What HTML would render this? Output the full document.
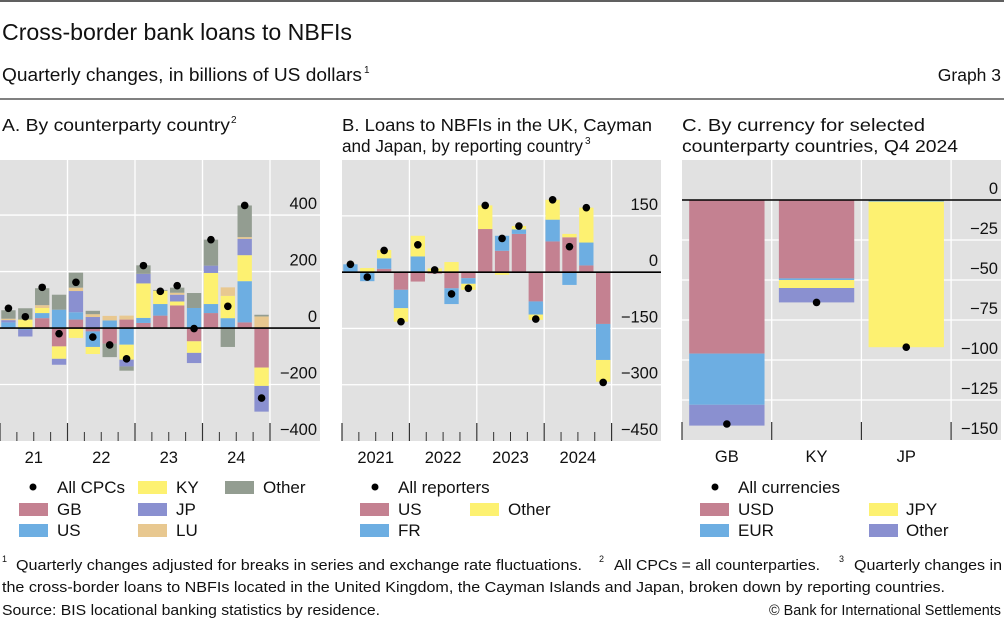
<!DOCTYPE html>
<html><head><meta charset="utf-8">
<style>
html,body{margin:0;padding:0;background:#fff;}
svg{display:block;font-family:"Liberation Sans",sans-serif;}
</style></head>
<body>
<svg id="chart" width="1004" height="629" viewBox="0 0 1004 629" xmlns="http://www.w3.org/2000/svg">
<line x1="0" y1="1" x2="1004" y2="1" stroke="#000" stroke-width="1.2"/>
<text x="2" y="40" font-size="23" fill="#111" textLength="350" lengthAdjust="spacingAndGlyphs">Cross-border bank loans to NBFIs</text>
<text x="2" y="81" font-size="18" fill="#111" textLength="360" lengthAdjust="spacingAndGlyphs">Quarterly changes, in billions of US dollars</text>
<text x="364" y="73" font-size="10" fill="#111">1</text>
<text x="1001" y="81" font-size="17.5" fill="#111" text-anchor="end">Graph 3</text>
<line x1="0" y1="99" x2="1004" y2="99" stroke="#000" stroke-width="1"/>

<text x="2" y="131" font-size="17.5" fill="#111" textLength="228" lengthAdjust="spacingAndGlyphs">A. By counterparty country</text>
<text x="231" y="123" font-size="10" fill="#111">2</text>
<text x="342" y="131" font-size="17.5" fill="#111" textLength="310" lengthAdjust="spacingAndGlyphs">B. Loans to NBFIs in the UK, Cayman</text>
<text x="342" y="152" font-size="17.5" fill="#111" textLength="241" lengthAdjust="spacingAndGlyphs">and Japan, by reporting country</text>
<text x="585" y="144" font-size="10" fill="#111">3</text>
<text x="682" y="131" font-size="17.5" fill="#111" textLength="243" lengthAdjust="spacingAndGlyphs">C. By currency for selected</text>
<text x="682" y="152" font-size="17.5" fill="#111" textLength="276" lengthAdjust="spacingAndGlyphs">counterparty countries, Q4 2024</text>

<g id="pA"></g>
<g id="pB"></g>
<g id="pC"></g>

<g font-size="17" fill="#111">
<circle cx="33" cy="487" r="3.5" fill="#000"/><text x="57" y="493">All CPCs</text>
<rect x="19" y="503" width="29" height="13" fill="#c48191"/><text x="57" y="515">GB</text>
<rect x="19" y="524" width="29" height="13" fill="#6daee2"/><text x="57" y="536">US</text>
<rect x="138" y="481" width="29" height="13" fill="#fdf171"/><text x="176" y="493">KY</text>
<rect x="138" y="503" width="29" height="13" fill="#8a90d0"/><text x="176" y="515">JP</text>
<rect x="138" y="524" width="29" height="13" fill="#e8c890"/><text x="176" y="536">LU</text>
<rect x="225" y="481" width="29" height="13" fill="#939d91"/><text x="263" y="493">Other</text>
</g>
<g font-size="17" fill="#111">
<circle cx="375" cy="487" r="3.5" fill="#000"/><text x="398" y="493">All reporters</text>
<rect x="360" y="503" width="29" height="13" fill="#c48191"/><text x="398" y="515">US</text>
<rect x="360" y="524" width="29" height="13" fill="#6daee2"/><text x="398" y="536">FR</text>
<rect x="470" y="503" width="29" height="13" fill="#fdf171"/><text x="508" y="515">Other</text>
</g>
<g font-size="17" fill="#111">
<circle cx="715" cy="487" r="3.5" fill="#000"/><text x="738" y="493">All currencies</text>
<rect x="700" y="503" width="29" height="13" fill="#c48191"/><text x="738" y="515">USD</text>
<rect x="700" y="524" width="29" height="13" fill="#6daee2"/><text x="738" y="536">EUR</text>
<rect x="869" y="503" width="29" height="13" fill="#fdf171"/><text x="906" y="515">JPY</text>
<rect x="869" y="524" width="29" height="13" fill="#8a90d0"/><text x="906" y="536">Other</text>
</g>

<g font-size="14.5" fill="#111">
<text x="2" y="562" font-size="9">1</text>
<text x="16" y="570" textLength="566" lengthAdjust="spacingAndGlyphs">Quarterly changes adjusted for breaks in series and exchange rate fluctuations.</text>
<text x="599" y="562" font-size="9">2</text>
<text x="614" y="570" textLength="206" lengthAdjust="spacingAndGlyphs">All CPCs = all counterparties.</text>
<text x="839" y="562" font-size="9">3</text>
<text x="854" y="570" textLength="148" lengthAdjust="spacingAndGlyphs">Quarterly changes in</text>
<text x="2" y="592" textLength="943" lengthAdjust="spacingAndGlyphs">the cross-border loans to NBFIs located in the United Kingdom, the Cayman Islands and Japan, broken down by reporting countries.</text>
<text x="2" y="615" textLength="378" lengthAdjust="spacingAndGlyphs">Source: BIS locational banking statistics by residence.</text>
<text x="1001" y="615" text-anchor="end" textLength="232" lengthAdjust="spacingAndGlyphs">© Bank for International Settlements</text>
</g>
</svg>
<script>
// Panel A data (billions USD), 16 quarters 2021Q1–2024Q4
const aYears = ["21","22","23","24"];
const aTicks = [400,200,0,-200,-400];
const aGB    = [0,0,35,-65,30,-12,-55,30,18,44,80,-47,53,0,20,-140];
const aUS    = [20,-5,18,65,26,-55,27,-59,18,41,0,71,32,35,146,0];
const aKY    = [0,30,18,-44,-35,-25,0,-53,122,47,14,-41,110,79,92,-65];
const aJP    = [8,-25,0,-21,75,39,0,-24,34,0,24,-36,26,0,58,-91];
const aLU    = [5,0,10,0,12,10,16,14,0,0,7,0,0,30,6,41];
const aOther = [30,40,60,53,53,12,-48,-15,30,3,18,53,92,-67,112,6];
const aTotal = [70,40,144,-20,162,-32,-60,-109,221,130,150,-2,313,77,434,-248];
// Panel B data
const bYears = ["2021","2022","2023","2024"];
const bTicks = [150,0,-150,-300,-450];
const bUS    = [0,-2,9,-47,-25,-4,-43,-16,115,57,102,-78,82,93,18,-138];
const bFR    = [21,-22,28,-49,42,0,-42,-15,0,40,12,-35,58,-34,61,-96];
const bOther = [0,11,22,-36,55,10,27,-16,63,-7,9,-14,53,9,93,-58];
const bTotal = [21,-13,58,-132,73,6,-58,-43,178,90,123,-125,193,68,172,-294];
// Panel C data
const cCats  = ["GB","KY","JP"];
const cTicks = [0,-25,-50,-75,-100,-125,-150];
const cUSD   = [-96,-49,0];
const cEUR   = [-32,-1,-1];
const cJPY   = [0,-5,-91];
const cOth   = [-13,-9,0];
const cTotal = [-140,-64,-92];

const NS="http://www.w3.org/2000/svg";
const COL={red:"#c48191",blue:"#6daee2",yel:"#fdf171",pur:"#8a90d0",tan:"#e8c890",gray:"#939d91"};
function mk(tag,attrs,parent){const e=document.createElementNS(NS,tag);for(const k in attrs)e.setAttribute(k,attrs[k]);parent.appendChild(e);return e;}

function panel(g,o,series,colors,names,totals,ticks,cats,isCat){
  const sy=v=>o.y0-(v-o.vmin)*(o.y0-o.y1)/(o.vmax-o.vmin);
  const bg=mk("rect",{x:o.x0,y:o.y1,width:o.x1-o.x0,height:o.y0-o.y1,fill:"#e1e1e1"},g);
  
  
  ticks.forEach(t=>{
    const yy=sy(t);
    if(yy<o.y0-1) mk("line",{x1:o.x0,x2:o.x1,y1:yy,y2:yy,stroke:"#fff","stroke-width":1.3},g);
    const tx=mk("text",{x:o.x1-3,y:yy-6,"text-anchor":"end","font-size":16.5,fill:"#111"},g);
    tx.textContent=(t<0?"\u2212"+(-t):String(t));
    
    
  });
  const n=o.n, groups=cats.length, per=n/groups;
  const step=o.gw/per;
  for(let k=1;k<=groups;k++){const xx=o.x0+k*o.gw;mk("line",{x1:xx,x2:xx,y1:o.y1,y2:o.y0,stroke:"#fff","stroke-width":1.3},g);}
  for(let k=0;k<=groups;k++){const xx=o.x0+k*o.gw;mk("line",{x1:xx,x2:xx,y1:o.y0-18,y2:o.y0,stroke:"#333","stroke-width":1.2},g);
    if(k<groups&&!isCat) for(let q=1;q<per;q++){const xq=xx+q*step;mk("line",{x1:xq,x2:xq,y1:o.y0-9,y2:o.y0,stroke:"#333","stroke-width":1},g);}
  }
  cats.forEach((c,k)=>{const t=mk("text",{x:o.x0+(k+0.5)*o.gw,y:o.y0+22,"text-anchor":"middle","font-size":16.5,fill:"#111"},g);t.textContent=c;
    
    });
  for(let i=0;i<n;i++){
    let pos=0,neg=0;
    const cx=o.x0+(i+0.5)*step, bw=step*o.bf;
    series.forEach((s,j)=>{
      const v=s[i]; if(!v) return;
      let a,b;
      if(v>0){a=pos;b=pos+v;pos=b;}else{a=neg;b=neg+v;neg=b;}
      const ya=sy(a),yb=sy(b);
      const r=mk("rect",{x:cx-bw/2,y:Math.min(ya,yb),width:bw,height:Math.abs(ya-yb),fill:colors[j]},g);
      
      
    });
  }
  const z=sy(0);
  mk("line",{x1:o.x0,x2:o.x1,y1:z,y2:z,stroke:"#000","stroke-width":1.6},g);
  for(let i=0;i<n;i++){
    const c=mk("circle",{cx:o.x0+(i+0.5)*step,cy:sy(totals[i]),r:3.8,fill:"#000"},g);
    
    
  }
}
panel(document.getElementById("pA"),{x0:0,x1:320,y0:441,y1:160,vmin:-400,vmax:595,n:16,gw:67.5,bf:0.85},
  [aGB,aUS,aKY,aJP,aLU,aOther],[COL.red,COL.blue,COL.yel,COL.pur,COL.tan,COL.gray],["gb","us","ky","jp","lu","other"],aTotal,aTicks,aYears,false);
panel(document.getElementById("pB"),{x0:342,x1:661,y0:441,y1:160,vmin:-450,vmax:299,n:16,gw:67.4,bf:0.85},
  [bUS,bFR,bOther],[COL.red,COL.blue,COL.yel],["us","fr","other"],bTotal,bTicks,bYears,false);
panel(document.getElementById("pC"),{x0:682,x1:1001,y0:440,y1:160,vmin:-150,vmax:25,n:3,gw:89.7,bf:0.84},
  [cUSD,cEUR,cJPY,cOth],[COL.red,COL.blue,COL.yel,COL.pur],["usd","eur","jpy","other"],cTotal,cTicks,cCats,true);
</script>
</body></html>
